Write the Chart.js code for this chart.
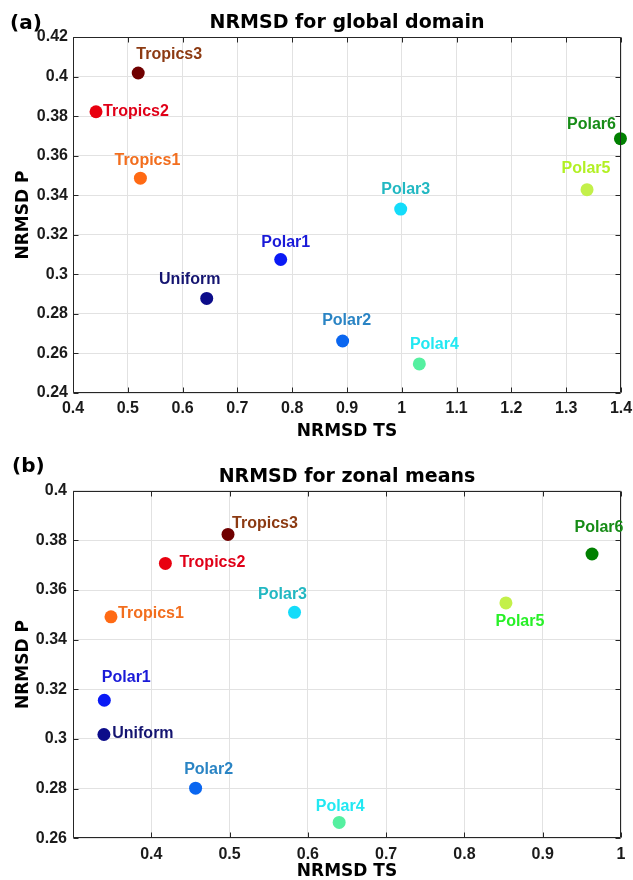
<!DOCTYPE html>
<html><head><meta charset="utf-8">
<script src="https://cdn.jsdelivr.net/npm/chart.js@4"></script>
<style>
html,body{margin:0;padding:0;background:#fff;}
#wrap{position:relative;width:633px;height:880px;overflow:hidden;background:#fff;}
.panel{position:absolute;left:0;width:633px;height:440px;}
.tag{position:absolute;font-family:"DejaVu Sans";font-weight:bold;font-size:20px;color:#000;line-height:20px;}
</style></head>
<body><div id="wrap">
<div class="panel" style="top:0"><canvas id="c1" width="633" height="440"></canvas></div>
<div class="panel" style="top:440px"><canvas id="c2" width="633" height="440"></canvas></div>
<div class="tag" style="left:10px;top:12px">(a)</div>
<div class="tag" style="left:12px;top:455px">(b)</div>
</div>
<script>
// ---- data ----
const names = ['Uniform','Polar1','Polar2','Polar3','Polar4','Polar5','Polar6','Tropics1','Tropics2','Tropics3'];
const tsGlobal = [0.644, 0.779, 0.892, 0.998, 1.032, 1.338, 1.399, 0.523, 0.442, 0.519];
const pGlobal  = [0.2878, 0.3075, 0.2663, 0.333, 0.2547, 0.3428, 0.3686, 0.3486, 0.3822, 0.4018];
const tsZonal  = [0.3395, 0.340, 0.4566, 0.583, 0.640, 0.853, 0.963, 0.3485, 0.418, 0.498];
const pZonal   = [0.3018, 0.3156, 0.2802, 0.351, 0.2664, 0.3548, 0.3745, 0.3492, 0.3707, 0.3824];

const xTickValsA = [0.4, 0.5, 0.6, 0.7, 0.8, 0.9, 1.0, 1.1, 1.2, 1.3, 1.4];
const xTickLabelsA = ['0.4','0.5','0.6','0.7','0.8','0.9','1','1.1','1.2','1.3','1.4'];
const yTickValsA = [0.24, 0.26, 0.28, 0.30, 0.32, 0.34, 0.36, 0.38, 0.40, 0.42];
const yTickLabelsA = ['0.24','0.26','0.28','0.3','0.32','0.34','0.36','0.38','0.4','0.42'];
const xTickValsB = [0.3, 0.4, 0.5, 0.6, 0.7, 0.8, 0.9, 1.0];
const xTickLabelsB = ['', '0.4','0.5','0.6','0.7','0.8','0.9','1'];
const yTickValsB = [0.26, 0.28, 0.30, 0.32, 0.34, 0.36, 0.38, 0.40];
const yTickLabelsB = ['0.26','0.28','0.3','0.32','0.34','0.36','0.38','0.4'];

// ---- styles ----
const markerColors = ['#0c0c8a','#0a1af5','#0a66f0','#14dcfa','#55f0a0','#c3f04a','#008000','#ff6a14','#e8000f','#700000'];
const labelColorsA = ['#141470','#1a1ad8','#2a84c4','#22b8c2','#22e8f2','#b2f024','#168c16','#f26e1e','#e00018','#8c3a12'];
const labelColorsB = ['#141470','#1a1ad8','#2a84c4','#22b8c2','#22e8f2','#28f028','#168c16','#f26e1e','#e00018','#8c3a12'];
const labelOffA = [[-17,-19],[5,-17],[4,-20],[5,-19],[15,-19],[-1,-21],[-29,-14],[7,-18],[40,0],[31,-18]];
const labelOffB = [[39,-1],[22,-23],[13,-19],[-12,-18],[1,-16],[14,19],[7,-26],[40,-3],[47,-1],[37,-11]];

const decor = {
  id: 'decor',
  afterDatasetsDraw(chart, args, o) {
    const ctx = chart.ctx;
    const ca = chart.chartArea;
    const L = Math.round(ca.left) + 0.5, R = Math.round(ca.right) - 0.5;
    const T = Math.round(ca.top) + 0.5, B = Math.round(ca.bottom) - 0.5;
    const xs = chart.scales.x, ys = chart.scales.y;
    ctx.save();
    ctx.strokeStyle = '#262626';
    ctx.lineWidth = 1;
    ctx.beginPath();
    ctx.rect(L, T, R - L, B - T);
    o.xVals.forEach(v => {
      const px = Math.round(xs.getPixelForValue(v)) + 0.5;
      ctx.moveTo(px, B); ctx.lineTo(px, B - 5);
      ctx.moveTo(px, T); ctx.lineTo(px, T + 5);
    });
    o.yVals.forEach(v => {
      const py = Math.round(ys.getPixelForValue(v)) + 0.5;
      ctx.moveTo(L, py); ctx.lineTo(L + 5, py);
      ctx.moveTo(R, py); ctx.lineTo(R - 5, py);
    });
    ctx.stroke();
    // point labels
    const meta = chart.getDatasetMeta(0);
    ctx.font = 'bold 16px "Liberation Sans", Arial, sans-serif';
    ctx.textAlign = 'center';
    ctx.textBaseline = 'middle';
    meta.data.forEach((pt, i) => {
      ctx.fillStyle = o.colors[i];
      ctx.fillText(o.names[i], pt.x + o.offs[i][0], pt.y + o.offs[i][1]);
    });
    ctx.restore();
  }
};

function makeChart(id, cfg) {
  const tickFont = {family: '"Liberation Sans", Arial, sans-serif', weight: 'bold', size: 16, lineHeight: 1};
  const axTitleFont = {family: '"DejaVu Sans"', weight: 'bold', size: 17, lineHeight: 1};
  return new Chart(document.getElementById(id), {
    type: 'scatter',
    data: {
      datasets: [{
        data: cfg.xs.map((x, i) => ({x: x, y: cfg.ys[i]})),
        pointBackgroundColor: markerColors,
        pointBorderWidth: 0,
        pointRadius: 6.5,
        pointHoverRadius: 6.5,
        clip: false
      }]
    },
    options: {
      responsive: false,
      animation: false,
      events: [],
      layout: {padding: {left: 0, right: 12, top: 0, bottom: 0}},
      plugins: {
        legend: {display: false},
        tooltip: {enabled: false},
        title: {
          display: true, text: cfg.title, fullSize: false, color: '#000',
          font: {family: '"DejaVu Sans"', weight: 'bold', size: 19, lineHeight: 1.2},
          padding: cfg.titlePad
        },
        decor: {names: names, colors: cfg.labelColors, offs: cfg.offs, xVals: cfg.xVals, yVals: cfg.yVals}
      },
      scales: {
        x: {
          type: 'linear', min: cfg.xMin, max: cfg.xMax,
          afterBuildTicks: s => { s.ticks = cfg.xVals.map(v => ({value: v})); },
          afterFit: s => { s.height = cfg.xH; s.paddingLeft = 0; s.paddingRight = 0; },
          border: {display: false},
          grid: {color: '#e2e2e2', lineWidth: 1, drawTicks: false},
          ticks: {autoSkip: false, maxRotation: 0, padding: 8, color: '#1a1a1a', font: tickFont,
                  callback: (v, i) => cfg.xLabels[i]},
          title: {display: true, text: 'NRMSD TS', color: '#000', font: axTitleFont, padding: {top: 0, bottom: cfg.xTitlePadB}}
        },
        y: {
          type: 'linear', min: cfg.yMin, max: cfg.yMax,
          afterBuildTicks: s => { s.ticks = cfg.yVals.map(v => ({value: v})); },
          afterFit: s => { s.width = 73; s.paddingTop = 0; s.paddingBottom = 0; },
          border: {display: false},
          grid: {color: '#e2e2e2', lineWidth: 1, drawTicks: false},
          ticks: {autoSkip: false, padding: cfg.yTickPad, color: '#1a1a1a', font: tickFont,
                  callback: (v, i) => cfg.yLabels[i]},
          title: {display: true, text: 'NRMSD P', color: '#000', font: axTitleFont, padding: {top: 15, bottom: 0}}
        }
      }
    },
    plugins: [decor]
  });
}

makeChart('c1', {
  title: 'NRMSD for global domain', titlePad: {top: 11.6, bottom: 2.6},
  xs: tsGlobal, ys: pGlobal, labelColors: labelColorsA, offs: labelOffA,
  xMin: 0.4, xMax: 1.4, yMin: 0.24, yMax: 0.42,
  xVals: xTickValsA, xLabels: xTickLabelsA, yVals: yTickValsA, yLabels: yTickLabelsA,
  xH: 47, xTitlePadB: 0, yTickPad: 5
});
makeChart('c2', {
  title: 'NRMSD for zonal means', titlePad: {top: 25.3, bottom: 2.6},
  xs: tsZonal, ys: pZonal, labelColors: labelColorsB, offs: labelOffB,
  xMin: 0.3, xMax: 1.0, yMin: 0.26, yMax: 0.40,
  xVals: xTickValsB, xLabels: xTickLabelsB, yVals: yTickValsB, yLabels: yTickLabelsB,
  xH: 41.7, xTitlePadB: 0, yTickPad: 6
});
</script>
</body></html>
